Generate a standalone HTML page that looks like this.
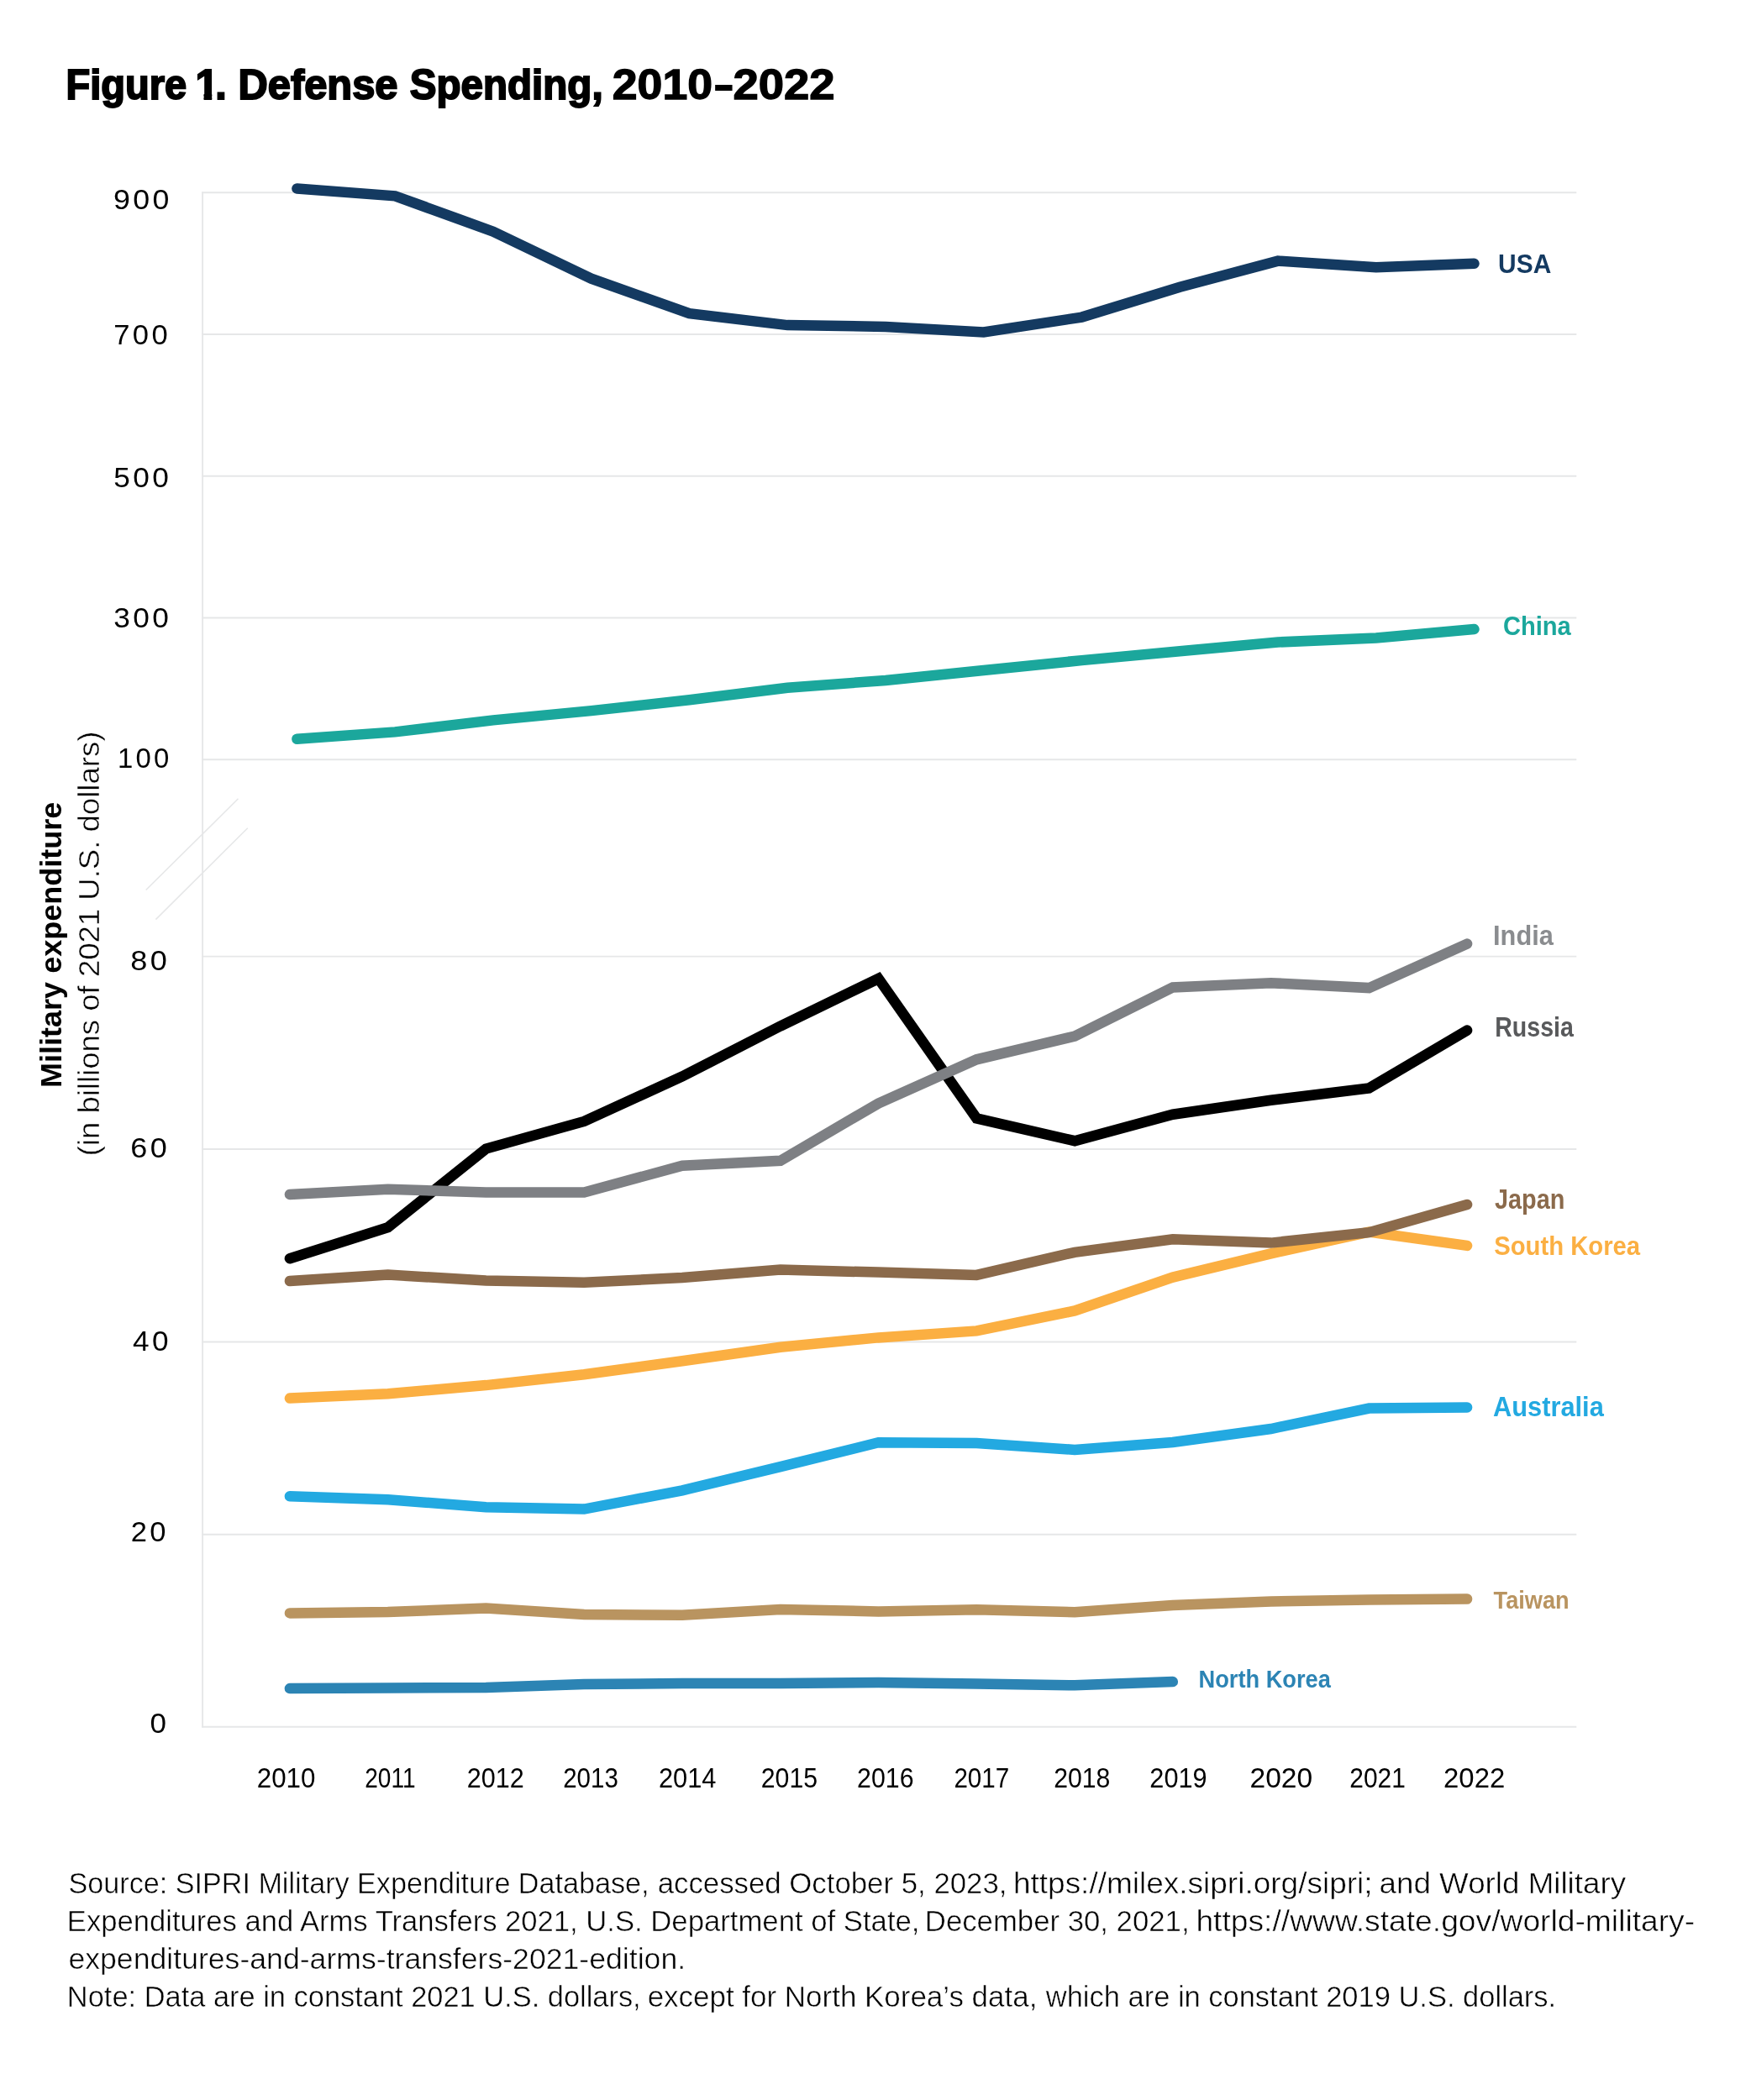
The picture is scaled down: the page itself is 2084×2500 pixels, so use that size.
<!DOCTYPE html>
<html lang="en"><head><meta charset="utf-8"><title>Figure 1. Defense Spending, 2010–2022</title>
<style>html,body{margin:0;padding:0;background:#fff;overflow:hidden}svg{display:block;will-change:transform}text{font-family:"Liberation Sans",sans-serif;fill:#000}.b{font-weight:bold}.ln{fill:none;stroke-linecap:round;stroke-linejoin:miter;stroke-miterlimit:10}</style></head><body>
<svg width="2084" height="2500" viewBox="0 0 2084 2500">
<rect width="2084" height="2500" fill="#ffffff"/>
<g stroke="#E6E7E8" stroke-width="1.9" fill="none">
<line x1="240.2" y1="229.3" x2="1876.3" y2="229.3"/>
<line x1="240.2" y1="398.0" x2="1876.3" y2="398.0"/>
<line x1="240.2" y1="566.8" x2="1876.3" y2="566.8"/>
<line x1="240.2" y1="735.5" x2="1876.3" y2="735.5"/>
<line x1="240.2" y1="904.3" x2="1876.3" y2="904.3"/>
<line x1="240.2" y1="1138.6" x2="1876.3" y2="1138.6"/>
<line x1="240.2" y1="1368.0" x2="1876.3" y2="1368.0"/>
<line x1="240.2" y1="1597.5" x2="1876.3" y2="1597.5"/>
<line x1="240.2" y1="1826.7" x2="1876.3" y2="1826.7"/>
<line x1="240.2" y1="2055.7" x2="1876.3" y2="2055.7"/>
<line x1="241.1" y1="228.4" x2="241.1" y2="2056.6"/>
<line x1="283.5" y1="950.8" x2="173.7" y2="1059.5" stroke-width="1.6"/>
<line x1="294.8" y1="985.7" x2="185.4" y2="1094.6" stroke-width="1.6"/>
</g>
<polyline class="ln" stroke="#143A61" stroke-width="12.5" points="353.4,224.4 470.2,233.3 586.9,275.7 703.7,331.6 820.4,373.2 937.2,387.1 1054.0,388.9 1170.7,395.4 1287.5,377.6 1404.2,341.8 1521.0,310.6 1637.8,318.3 1754.5,313.8"/>
<polyline class="ln" stroke="#1BA79C" stroke-width="12.5" points="353.4,879.7 470.2,871.4 586.9,857.4 703.7,846.1 820.4,833.3 937.2,818.8 1054.0,809.9 1170.7,798.0 1287.5,786.1 1404.2,775.2 1521.0,764.5 1637.8,759.5 1754.5,749.1"/>
<polyline class="ln" stroke="#2C84B4" stroke-width="12.5" points="344.9,2010.1 461.7,2009.5 578.4,2008.9 695.2,2005.1 812.0,2003.9 928.8,2003.9 1045.5,2003.0 1162.3,2004.5 1279.1,2006.3 1395.8,2002.1"/>
<polyline class="ln" stroke="#B99460" stroke-width="12.5" points="344.9,1920.4 461.7,1919.0 578.4,1914.5 695.2,1921.9 812.0,1922.8 928.8,1916.0 1045.5,1918.4 1162.3,1916.3 1279.1,1919.3 1395.8,1910.9 1512.6,1906.5 1629.4,1904.4 1746.1,1903.5"/>
<polyline class="ln" stroke="#23A9E1" stroke-width="12.5" points="344.9,1781.2 461.7,1785.3 578.4,1794.2 695.2,1796.6 812.0,1774.3 928.8,1746.1 1045.5,1717.3 1162.3,1717.9 1279.1,1725.9 1395.8,1717.0 1512.6,1701.0 1629.4,1676.6 1746.1,1675.4"/>
<polyline class="ln" stroke="#FBAF42" stroke-width="12.5" points="344.9,1664.6 461.7,1659.2 578.4,1649.1 695.2,1636.3 812.0,1620.3 928.8,1603.7 1045.5,1592.4 1162.3,1584.4 1279.1,1560.4 1395.8,1520.6 1512.6,1492.4 1629.4,1466.6 1746.1,1482.9"/>
<polyline class="ln" stroke="#8B6A4B" stroke-width="12.5" points="344.9,1525.0 461.7,1517.6 578.4,1524.4 695.2,1526.8 812.0,1521.0 928.8,1511.6 1045.5,1514.6 1162.3,1517.9 1279.1,1490.8 1395.8,1475.2 1512.6,1479.6 1629.4,1467.2 1746.1,1433.9"/>
<polyline class="ln" stroke="#000000" stroke-width="12.5" points="344.9,1498.2 461.7,1461.1 578.4,1367.6 695.2,1334.9 812.0,1281.5 928.8,1221.5 1045.5,1165.0 1162.3,1331.4 1279.1,1358.2 1395.8,1326.7 1512.6,1309.8 1629.4,1295.5 1746.1,1226.6"/>
<polyline class="ln" stroke="#7E8084" stroke-width="12.5" points="344.9,1421.9 461.7,1415.7 578.4,1419.5 695.2,1419.5 812.0,1387.8 928.8,1381.8 1045.5,1313.5 1162.3,1261.3 1279.1,1233.6 1395.8,1175.5 1512.6,1170.2 1629.4,1176.1 1746.1,1123.6"/>
<text transform="translate(78.40 117.70) scale(0.9407 1)" font-size="50" class="b" stroke="#000" stroke-width="2.0">Figure</text>
<clipPath id="c1"><path d="M228 70H252.2V125H242.6V110.4H228Z"/></clipPath><g clip-path="url(#c1)"><text class="b" font-size="50" stroke="#000" stroke-width="2" transform="translate(232.4 117.7)">1</text></g><text transform="translate(256.34 117.70) scale(0.9682 1)" font-size="50" class="b" stroke="#000" stroke-width="2.0">.</text>
<text transform="translate(283.53 117.70) scale(0.9763 1)" font-size="50" class="b" stroke="#000" stroke-width="2.0">Defense</text>
<text transform="translate(487.71 117.70) scale(0.9516 1)" font-size="50" class="b" stroke="#000" stroke-width="2.0">Spending,</text>
<text transform="translate(728.72 118.05) scale(1.0731 1)" font-size="50" class="b" stroke="#000" stroke-width="1.3">2010</text><text transform="translate(850.67 117.70) scale(0.7631 1)" font-size="50" class="b" stroke="#000" stroke-width="2.0">–</text><text transform="translate(872.51 118.05) scale(1.0891 1)" font-size="50" class="b" stroke="#000" stroke-width="1.3">2022</text>
<text transform="translate(134.92 248.70) scale(1.0831 1)" font-size="33" letter-spacing="3.2">900</text>
<text transform="translate(135.28 409.80) scale(1.0475 1)" font-size="33" letter-spacing="3.2">700</text>
<text transform="translate(135.30 579.90) scale(1.0670 1)" font-size="33" letter-spacing="3.2">500</text>
<text transform="translate(135.30 746.90) scale(1.0670 1)" font-size="33" letter-spacing="3.2">300</text>
<text transform="translate(139.94 913.90) scale(0.9970 1)" font-size="33" letter-spacing="3.2">100</text>
<text transform="translate(155.27 1154.90) scale(1.0932 1)" font-size="33" letter-spacing="3.2">80</text>
<text transform="translate(155.31 1377.90) scale(1.0922 1)" font-size="33" letter-spacing="3.2">60</text>
<text transform="translate(158.05 1607.90) scale(1.0656 1)" font-size="33" letter-spacing="3.2">40</text>
<text transform="translate(155.68 1834.90) scale(1.0470 1)" font-size="33" letter-spacing="3.2">20</text>
<text transform="translate(178.51 2062.50) scale(1.0606 1)" font-size="33" letter-spacing="3.2">0</text>
<text transform="translate(305.73 2128.20) scale(0.9633 1)" font-size="32.5">2010</text><text transform="translate(434.18 2128.20) scale(0.8636 1)" font-size="32.5">2011</text>
<text transform="translate(555.87 2128.20) scale(0.9401 1)" font-size="32.5">2012</text>
<text transform="translate(670.22 2128.20) scale(0.9070 1)" font-size="32.5">2013</text>
<text transform="translate(783.96 2128.20) scale(0.9476 1)" font-size="32.5">2014</text>
<text transform="translate(905.78 2128.20) scale(0.9315 1)" font-size="32.5">2015</text>
<text transform="translate(1020.08 2128.20) scale(0.9329 1)" font-size="32.5">2016</text>
<text transform="translate(1135.41 2128.20) scale(0.9099 1)" font-size="32.5">2017</text>
<text transform="translate(1254.18 2128.20) scale(0.9300 1)" font-size="32.5">2018</text>
<text transform="translate(1368.36 2128.20) scale(0.9444 1)" font-size="32.5">2019</text>
<text transform="translate(1487.53 2128.20) scale(1.0319 1)" font-size="32.5">2020</text>
<text transform="translate(1606.30 2128.20) scale(0.9200 1)" font-size="32.5">2021</text>
<text transform="translate(1718.06 2128.20) scale(1.0121 1)" font-size="32.5">2022</text>
<text transform="translate(1783.10 325.10) scale(0.9350 1)" font-size="32" class="b" style="fill:#143A61">USA</text>
<text transform="translate(1788.89 756.20) scale(0.9104 1)" font-size="32" class="b" style="fill:#1BA79C">China</text>
<text transform="translate(1777.08 1125.00) scale(0.9314 1)" font-size="33" class="b" style="fill:#8A8C8F">India</text>
<text transform="translate(1779.22 1234.00) scale(0.8650 1)" font-size="33" class="b" style="fill:#58595B">Russia</text>
<text transform="translate(1779.00 1439.00) scale(0.8744 1)" font-size="33" class="b" style="fill:#8B6A4B">Japan</text>
<text transform="translate(1778.14 1494.40) scale(0.9150 1)" font-size="32" class="b" style="fill:#FBAF42">South Korea</text>
<text transform="translate(1777.12 1686.00) scale(0.9325 1)" font-size="33" class="b" style="fill:#23A9E1">Australia</text>
<text transform="translate(1777.60 1915.00) scale(0.9060 1)" font-size="30" class="b" style="fill:#B99460">Taiwan</text>
<text transform="translate(1426.50 2008.90) scale(0.9082 1)" font-size="30" class="b" style="fill:#2C84B4">North Korea</text>
<text transform="translate(73.20 1294.95) rotate(-90) scale(1.0011 1)" font-size="36" class="b">Military expenditure</text>
<text transform="translate(117.70 1376.37) rotate(-90) scale(1.0154 1)" font-size="36" stroke="#fff" stroke-width="0.5">(in billions of 2021 U.S. dollars)</text>
<text transform="translate(81.49 2254.00) scale(0.9694 1)" font-size="35.25" stroke="#fff" stroke-width="0.5">Source: SIPRI Military Expenditure Database,</text>
<text transform="translate(782.67 2254.00) scale(0.9871 1)" font-size="35.25" stroke="#fff" stroke-width="0.5">accessed October 5, 2023,</text>
<text transform="translate(1205.92 2254.00) scale(1.0500 1)" font-size="35.25" stroke="#fff" stroke-width="0.5">https://milex.sipri.org/sipri;</text>
<text transform="translate(1641.59 2254.00) scale(1.0431 1)" font-size="35.25" stroke="#fff" stroke-width="0.5">and World Military</text>
<text transform="translate(79.85 2299.20) scale(0.9822 1)" font-size="35.25" stroke="#fff" stroke-width="0.5">Expenditures and Arms Transfers 2021,</text>
<text transform="translate(697.18 2299.20) scale(0.9848 1)" font-size="35.25" stroke="#fff" stroke-width="0.5">U.S. Department of State,</text>
<text transform="translate(1100.84 2299.20) scale(0.9856 1)" font-size="35.25" stroke="#fff" stroke-width="0.5">December 30, 2021,</text>
<text transform="translate(1423.41 2299.20) scale(1.0562 1)" font-size="35.25" stroke="#fff" stroke-width="0.5">https://www.state.gov/world-military-</text>
<text transform="translate(81.43 2344.20) scale(1.0108 1)" font-size="35.25" stroke="#fff" stroke-width="0.5">expenditures-and-arms-transfers-2021-edition.</text>
<text transform="translate(79.87 2389.10) scale(0.9763 1)" font-size="35.25" stroke="#fff" stroke-width="0.5">Note: Data are in constant 2021 U.S. dollars,</text>
<text transform="translate(770.66 2389.10) scale(0.9920 1)" font-size="35.25" stroke="#fff" stroke-width="0.5">except for North Korea’s data,</text>
<text transform="translate(1244.79 2389.10) scale(0.9780 1)" font-size="35.25" stroke="#fff" stroke-width="0.5">which are in constant 2019 U.S. dollars.</text>
</svg></body></html>
